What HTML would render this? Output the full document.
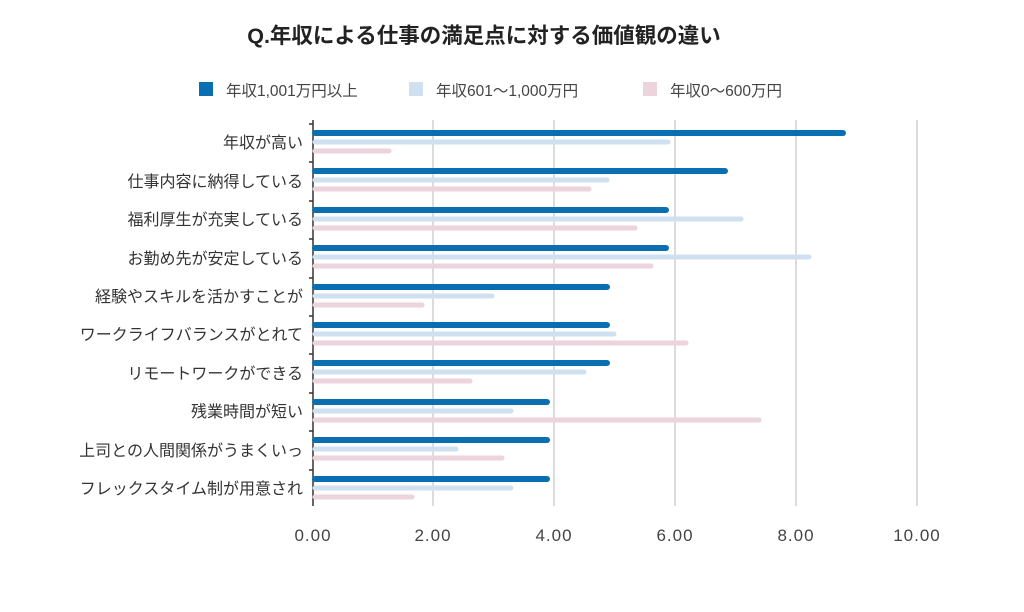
<!DOCTYPE html>
<html><head><meta charset="utf-8"><style>
body{margin:0;background:#fff;width:1024px;height:612px;overflow:hidden}
svg{display:block;font-family:"Liberation Sans","Noto Sans CJK JP",sans-serif}
</style></head><body>
<svg width="1024" height="612" xmlns="http://www.w3.org/2000/svg">
<text x="484" y="43" text-anchor="middle" font-size="21.5" font-weight="bold" fill="#222">Q.年収による仕事の満足点に対する価値観の違い</text>
<rect x="199" y="82" width="14" height="14" fill="#0a6fb0"/>
<text x="226" y="96" font-size="15.5" fill="#444">年収1,001万円以上</text>
<rect x="409" y="82" width="14" height="14" fill="#cfe0f1"/>
<text x="436" y="96" font-size="15.5" fill="#444">年収601～1,000万円</text>
<rect x="643" y="82" width="14" height="14" fill="#ecd3dc"/>
<text x="670" y="96" font-size="15.5" fill="#444">年収0～600万円</text>
<g stroke="#d0d0d0" stroke-width="1.5">
<line x1="433" y1="120" x2="433" y2="506"/><line x1="554" y1="120" x2="554" y2="506"/><line x1="675" y1="120" x2="675" y2="506"/><line x1="796" y1="120" x2="796" y2="506"/><line x1="917" y1="120" x2="917" y2="506"/>
</g>
<line x1="313" y1="120" x2="313" y2="506" stroke="#333" stroke-width="1.5"/>
<g stroke-linecap="round" stroke-width="5">
<line x1="315" x2="843" y1="133" y2="133" stroke="#0a6fb0" stroke-width="6"/><line x1="315" x2="668" y1="142" y2="142" stroke="#cfe0f1"/><line x1="315" x2="389" y1="151" y2="151" stroke="#ecd3dc"/>
<line x1="315" x2="725" y1="171" y2="171" stroke="#0a6fb0" stroke-width="6"/><line x1="315" x2="607" y1="180" y2="180" stroke="#cfe0f1"/><line x1="315" x2="589" y1="189" y2="189" stroke="#ecd3dc"/>
<line x1="315" x2="666" y1="210" y2="210" stroke="#0a6fb0" stroke-width="6"/><line x1="315" x2="741" y1="219" y2="219" stroke="#cfe0f1"/><line x1="315" x2="635" y1="228" y2="228" stroke="#ecd3dc"/>
<line x1="315" x2="666" y1="248" y2="248" stroke="#0a6fb0" stroke-width="6"/><line x1="315" x2="809" y1="257" y2="257" stroke="#cfe0f1"/><line x1="315" x2="651" y1="266" y2="266" stroke="#ecd3dc"/>
<line x1="315" x2="607" y1="287" y2="287" stroke="#0a6fb0" stroke-width="6"/><line x1="315" x2="492" y1="296" y2="296" stroke="#cfe0f1"/><line x1="315" x2="422" y1="305" y2="305" stroke="#ecd3dc"/>
<line x1="315" x2="607" y1="325" y2="325" stroke="#0a6fb0" stroke-width="6"/><line x1="315" x2="614" y1="334" y2="334" stroke="#cfe0f1"/><line x1="315" x2="686" y1="343" y2="343" stroke="#ecd3dc"/>
<line x1="315" x2="607" y1="363" y2="363" stroke="#0a6fb0" stroke-width="6"/><line x1="315" x2="584" y1="372" y2="372" stroke="#cfe0f1"/><line x1="315" x2="470" y1="381" y2="381" stroke="#ecd3dc"/>
<line x1="315" x2="547" y1="402" y2="402" stroke="#0a6fb0" stroke-width="6"/><line x1="315" x2="511" y1="411" y2="411" stroke="#cfe0f1"/><line x1="315" x2="759" y1="420" y2="420" stroke="#ecd3dc"/>
<line x1="315" x2="547" y1="440" y2="440" stroke="#0a6fb0" stroke-width="6"/><line x1="315" x2="456" y1="449" y2="449" stroke="#cfe0f1"/><line x1="315" x2="502" y1="458" y2="458" stroke="#ecd3dc"/>
<line x1="315" x2="547" y1="479" y2="479" stroke="#0a6fb0" stroke-width="6"/><line x1="315" x2="511" y1="488" y2="488" stroke="#cfe0f1"/><line x1="315" x2="412" y1="497" y2="497" stroke="#ecd3dc"/>
</g>
<g stroke="#333" stroke-width="1.5">
<line x1="309" x2="313" y1="124" y2="124"/><line x1="309" x2="313" y1="162" y2="162"/><line x1="309" x2="313" y1="201" y2="201"/><line x1="309" x2="313" y1="239" y2="239"/><line x1="309" x2="313" y1="278" y2="278"/><line x1="309" x2="313" y1="316" y2="316"/><line x1="309" x2="313" y1="354" y2="354"/><line x1="309" x2="313" y1="393" y2="393"/><line x1="309" x2="313" y1="431" y2="431"/><line x1="309" x2="313" y1="470" y2="470"/>
</g>
<g font-size="16" fill="#333" text-anchor="end">
<text x="303" y="148">年収が高い</text>
<text x="303" y="187">仕事内容に納得している</text>
<text x="303" y="225">福利厚生が充実している</text>
<text x="303" y="264">お勤め先が安定している</text>
<text x="303" y="302">経験やスキルを活かすことが</text>
<text x="303" y="340">ワークライフバランスがとれて</text>
<text x="303" y="379">リモートワークができる</text>
<text x="303" y="417">残業時間が短い</text>
<text x="303" y="456">上司との人間関係がうまくいっ</text>
<text x="303" y="494">フレックスタイム制が用意され</text>
</g>
<g font-size="17" fill="#444" text-anchor="middle" letter-spacing="1">
<text x="313" y="541">0.00</text><text x="433" y="541">2.00</text><text x="554" y="541">4.00</text><text x="675" y="541">6.00</text><text x="796" y="541">8.00</text><text x="917" y="541">10.00</text>
</g>
</svg>
</body></html>
